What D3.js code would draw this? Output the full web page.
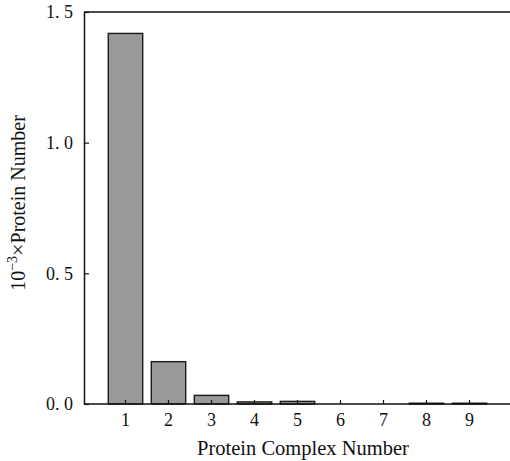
<!DOCTYPE html>
<html><head><meta charset="utf-8">
<script src="https://cdn.jsdelivr.net/npm/d3@7"></script>
<style>body{margin:0;background:#fff}svg{display:block}</style>
</head><body><svg id="c" width="510" height="461"></svg>
<script>
const categories = ["1","2","3","4","5","6","7","8","9"];
const values = [1.418, 0.162, 0.033, 0.008, 0.010, 0, 0, 0.003, 0.003];
const yTicks = [0, 0.5, 1.0, 1.5];
const yTickLabels = ["0. 0","0. 5","1. 0","1. 5"];
const FONT = "'Liberation Serif'";

const svg = d3.select("#c");
const x = d3.scaleBand().domain(categories).range([84, 511]).paddingInner(0.2).paddingOuter(0.565);
const y = d3.scaleLinear().domain([0, 1.5]).range([404, 12]);

svg.append("g").selectAll("rect").data(values).join("rect")
  .attr("x", (d,i)=>x(categories[i]))
  .attr("width", x.bandwidth())
  .attr("y", d=>y(d))
  .attr("height", d=>y(0)-y(d))
  .attr("fill", "#999")
  .attr("stroke", "#1a1a1a")
  .attr("stroke-width", 1.4);

svg.append("line").attr("x1",84).attr("x2",510).attr("y1",y(1.5)).attr("y2",y(1.5)).attr("stroke","#111").attr("stroke-width",1.5);

const gx = svg.append("g").attr("transform",`translate(0,${y(0)})`)
  .call(d3.axisBottom(x).tickSize(-4).tickSizeOuter(0).tickPadding(10));
gx.select(".domain").attr("d","M84,0H510").attr("stroke","#111").attr("stroke-width",1.5);
gx.selectAll(".tick line").attr("stroke","#111").attr("stroke-width",1.2);
gx.selectAll(".tick text").style("font-family",FONT).attr("font-size",18).attr("fill","#111").attr("dy","0.71em").attr("y",9);

const gy = svg.append("g").attr("transform","translate(84,0)")
  .call(d3.axisLeft(y).tickValues(yTicks).tickFormat((d,i)=>yTickLabels[i]).tickSize(-5).tickSizeOuter(0).tickPadding(11));
gy.select(".domain").attr("stroke","#111").attr("stroke-width",1.5);
gy.selectAll(".tick line").attr("stroke","#111").attr("stroke-width",1.2);
gy.selectAll(".tick text").style("font-family",FONT).attr("font-size",18).attr("fill","#111");

svg.append("text").style("font-family",FONT).attr("fill","#111").attr("x",303).attr("y",455).attr("text-anchor","middle").attr("font-size",20.5).text("Protein Complex Number");
const yt = svg.append("text").style("font-family",FONT).attr("fill","#111").attr("transform","translate(25,203) rotate(-90)").attr("text-anchor","middle").attr("font-size",20);
yt.append("tspan").text("10");
yt.append("tspan").attr("dy",-8).attr("font-size",14).text("\u22123");
yt.append("tspan").attr("dy",8).attr("font-size",22).text("\u00d7");
yt.append("tspan").text("Protein Number");
</script></body></html>
